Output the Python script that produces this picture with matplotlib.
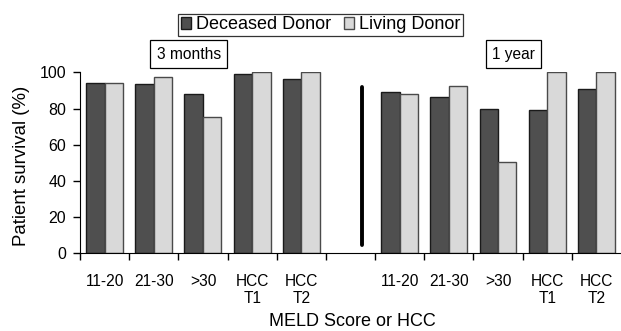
import matplotlib.pyplot as plt
from matplotlib.patches import Patch

plt.rcParams['font.family'] = ['Liberation Sans', 'DejaVu Sans']

groups = ['11-20', '21-30', '>30', 'HCC\nT1', 'HCC\nT2']
deceased_3m = [94.3, 93.5, 87.9, 99, 96.6]
living_3m = [94.3, 97.7, 75.3, 100, 100]
deceased_1y = [89.2, 86.4, 79.7, 79, 90.7]
living_1y = [87.9, 92.5, 50.3, 100, 100]

dark = '#4f4f4f'
light = '#d9d9d9'
w = 0.375

fig = plt.figure(figsize=(6.21, 3.31), dpi=100)
ax = fig.add_axes([0.1288, 0.2365, 0.8712, 0.5445])

x3 = list(range(5))
x1 = [i + 6 for i in range(5)]
ax.bar([x - w / 2 for x in x3], deceased_3m, w, color=dark, edgecolor='#1a1a1a', linewidth=1)
ax.bar([x + w / 2 for x in x3], living_3m, w, color=light, edgecolor='#4a4a4a', linewidth=1)
ax.bar([x - w / 2 for x in x1], deceased_1y, w, color=dark, edgecolor='#1a1a1a', linewidth=1)
ax.bar([x + w / 2 for x in x1], living_1y, w, color=light, edgecolor='#4a4a4a', linewidth=1)

# divider between the two time points
ax.plot([5.24, 5.24], [4.3, 92], color='black', lw=2.8, solid_capstyle='round')

ax.set_xlim(-0.5, 10.5)
ax.set_ylim(0, 100)
ax.set_yticks([0, 20, 40, 60, 80, 100])
ax.set_xticks([i - 0.5 for i in range(11)])
ax.set_xticklabels([])
ax.set_xticks(x3 + x1, groups + groups, minor=True)
ax.tick_params(axis='x', which='minor', length=0, pad=15, labelsize=11.2)
ax.tick_params(axis='x', which='major', length=5, width=1)
ax.tick_params(axis='y', length=5, width=1, labelsize=11.5, pad=5)
for s in ['top', 'right']:
    ax.spines[s].set_visible(False)

fig.text(0.034, 0.5, 'Patient survival (%)', rotation=90, ha='center', va='center', fontsize=13.4)
fig.text(0.568, 0.03, 'MELD Score or HCC', ha='center', va='center', fontsize=13)

box = dict(boxstyle='square,pad=0.4', facecolor='white', edgecolor='black', linewidth=0.9)
ax.text(1.71, 110.2, '3 months', ha='center', va='center', fontsize=11.2, bbox=box, clip_on=False)
ax.text(8.31, 110.2, '1 year', ha='center', va='center', fontsize=11.2, bbox=box, clip_on=False)

handles = [Patch(facecolor=dark, edgecolor='#1a1a1a', label='Deceased Donor'),
           Patch(facecolor=light, edgecolor='#4a4a4a', label='Living Donor')]
leg = fig.legend(handles=handles, loc='center', bbox_to_anchor=(0.516, 0.9245), ncol=2,
                 fontsize=13, frameon=True, fancybox=False, handlelength=0.6, handleheight=0.6,
                 handletextpad=0.25, columnspacing=0.7, borderpad=0.15, borderaxespad=0)
leg.get_frame().set_edgecolor('black')
leg.get_frame().set_linewidth(0.9)

fig.savefig('out.png', dpi=100)
